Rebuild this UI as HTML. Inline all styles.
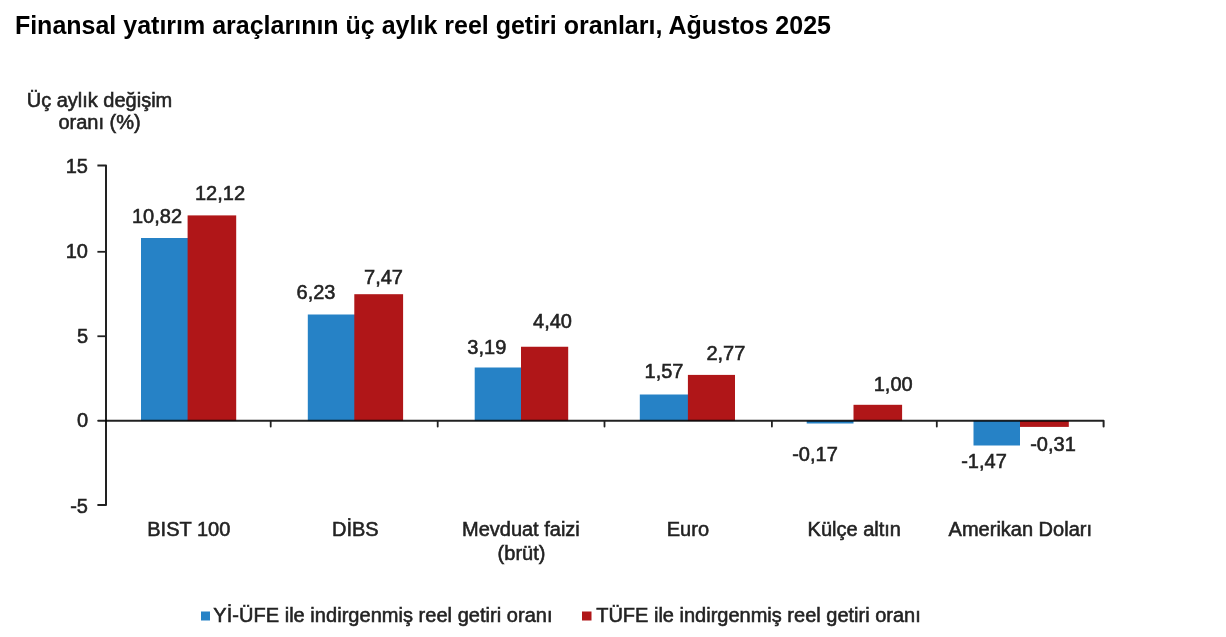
<!DOCTYPE html>
<html lang="tr"><head><meta charset="utf-8"><title>Finansal yatırım araçlarının üç aylık reel getiri oranları</title>
<style>
html,body{margin:0;padding:0;background:#fff;}
body{width:1226px;height:637px;overflow:hidden;font-family:"Liberation Sans",sans-serif;}
svg{display:block}
svg text{font-family:"Liberation Sans",sans-serif;font-size:20px;fill:#222222;stroke:#222222;stroke-width:.55px;filter:url(#bl)}
.t{font-weight:bold;font-size:25px!important;fill:#000!important;stroke:none!important;filter:none!important}
.m{text-anchor:middle}
.e{text-anchor:end}
</style></head><body>
<svg width="1226" height="637" viewBox="0 0 1226 637">
<rect width="1226" height="637" fill="#fff"/>

<defs><filter id="bl" x="-5%" y="-20%" width="110%" height="140%"><feGaussianBlur stdDeviation="0.55"/></filter></defs>
<text class="t" x="14.9" y="34.2">Finansal yatırım araçlarının üç aylık reel getiri oranları, Ağustos 2025</text>
<text class="m" x="99.5" y="107.2">Üç aylık değişim</text>
<text class="m" x="99.5" y="128.5">oranı (%)</text>
<rect x="141.00" y="238.00" width="47.60" height="182.80" fill="#2682C6"/>
<rect x="187.60" y="215.40" width="48.60" height="205.40" fill="#B01618"/>
<rect x="307.80" y="314.50" width="47.50" height="106.30" fill="#2682C6"/>
<rect x="354.30" y="294.20" width="48.80" height="126.60" fill="#B01618"/>
<rect x="474.70" y="367.50" width="47.30" height="53.30" fill="#2682C6"/>
<rect x="521.00" y="346.75" width="47.20" height="74.05" fill="#B01618"/>
<rect x="639.80" y="394.50" width="49.10" height="26.30" fill="#2682C6"/>
<rect x="687.90" y="374.90" width="47.10" height="45.90" fill="#B01618"/>
<rect x="806.70" y="420.80" width="46.80" height="2.70" fill="#2682C6"/>
<rect x="853.50" y="404.80" width="48.60" height="16.00" fill="#B01618"/>
<rect x="1019.00" y="420.80" width="49.80" height="6.10" fill="#B01618"/>
<rect x="973.50" y="420.80" width="46.50" height="24.70" fill="#2682C6"/>
<path d="M97.4 165.5H106.0 V505H97.4" fill="none" stroke="#222222" stroke-width="2" stroke-linejoin="round"/>
<path d="M97.4 251.80H105.5" stroke="#222222" stroke-width="1.8"/>
<path d="M97.4 336.25H105.5" stroke="#222222" stroke-width="1.8"/>
<path d="M98.2 420.8H1103.6V426.5" fill="none" stroke="#222222" stroke-width="2" stroke-linejoin="round" stroke-linecap="round" style="mix-blend-mode:multiply"/>
<path d="M270.7 420.8V426.5" stroke="#222222" stroke-width="1.8" stroke-linecap="round"/>
<path d="M437.7 420.8V426.5" stroke="#222222" stroke-width="1.8" stroke-linecap="round"/>
<path d="M604.5 420.8V426.5" stroke="#222222" stroke-width="1.8" stroke-linecap="round"/>
<path d="M771.9 420.8V426.5" stroke="#222222" stroke-width="1.8" stroke-linecap="round"/>
<path d="M936.8 420.8V426.5" stroke="#222222" stroke-width="1.8" stroke-linecap="round"/>
<text class="e" x="88" y="173.1">15</text>
<text class="e" x="88" y="257.8">10</text>
<text class="e" x="88" y="342.7">5</text>
<text class="e" x="88" y="427.0">0</text>
<text class="e" x="88" y="512.8">-5</text>
<text class="m" x="157.0" y="222.5">10,82</text>
<text class="m" x="220.0" y="200.3">12,12</text>
<text class="m" x="316.0" y="299.3">6,23</text>
<text class="m" x="383.5" y="284.3">7,47</text>
<text class="m" x="486.8" y="353.9">3,19</text>
<text class="m" x="552.5" y="327.8">4,40</text>
<text class="m" x="664.0" y="378.0">1,57</text>
<text class="m" x="725.9" y="359.7">2,77</text>
<text class="m" x="815.0" y="460.6">-0,17</text>
<text class="m" x="893.2" y="390.9">1,00</text>
<text class="m" x="984.0" y="468.4">-1,47</text>
<text class="m" x="1053.0" y="451.3">-0,31</text>
<text class="m" x="188.8" y="536">BIST 100</text>
<text class="m" x="355.3" y="536">DİBS</text>
<text class="m" x="520.9" y="536">Mevduat faizi</text>
<text class="m" x="687.9" y="536">Euro</text>
<text class="m" x="854.3" y="536">Külçe altın</text>
<text class="m" x="1020.3" y="536">Amerikan Doları</text>
<text class="m" x="521.5" y="559.5">(brüt)</text>
<rect x="201" y="611.5" width="9" height="9" fill="#2682C6"/>
<text x="213.3" y="622.2" style="letter-spacing:.035px">Yİ-ÜFE ile indirgenmiş reel getiri oranı</text>
<rect x="582" y="611.5" width="9.5" height="9" fill="#B01618"/>
<text x="596.2" y="622.2">TÜFE ile indirgenmiş reel getiri oranı</text>
</svg></body></html>
